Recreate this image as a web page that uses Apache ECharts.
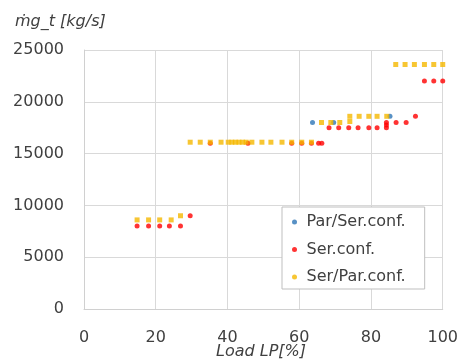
<!DOCTYPE html>
<html>
<head>
<meta charset="utf-8">
<script src="https://cdn.jsdelivr.net/npm/echarts@6/dist/echarts.min.js"></script>
<style>html,body{margin:0;padding:0;background:#fff}#c{width:461px;height:364px}</style>
</head>
<body>
<div id="c"></div>
<script>
// Series names
const seriesNames = ['Par/Ser.conf.', 'Ser.conf.', 'Ser/Par.conf.'];
// Axis ticks
const xTicks = [0, 20, 40, 60, 80, 100];
const yTicks = [0, 5000, 10000, 15000, 20000, 25000];
// Par/Ser.conf. points [load %, mass flow kg/s]
const parSer = [[63.7, 18000], [69.6, 18000], [85.3, 18600]];
// Ser.conf. points
const ser = [
  [14.8, 8000], [18.0, 8000], [21.1, 8000], [23.8, 8000], [26.9, 8000], [29.6, 9000],
  [35.2, 16000], [45.7, 16000], [57.9, 16000], [60.7, 16000], [63.4, 16000], [65.4, 16000], [66.3, 16000],
  [68.3, 17500], [71.0, 17500], [73.8, 17500], [76.4, 17500], [79.4, 17500], [81.7, 17500],
  [84.3, 17500], [84.3, 17750], [84.3, 18000], [87.0, 18000], [89.8, 18000], [92.4, 18600],
  [94.9, 22000], [97.5, 22000], [100, 22000]
];
// Ser/Par.conf. points
const serPar = [
  [14.8, 8600], [18.0, 8600], [21.1, 8600], [24.3, 8600], [26.9, 9000],
  [29.6, 16100], [32.4, 16100], [35.2, 16100], [38.2, 16100],
  [40.2, 16100], [41.2, 16100], [42.2, 16100], [43.2, 16100], [44.2, 16100], [45.2, 16100],
  [46.8, 16100], [49.6, 16100], [52.1, 16100], [55.2, 16100], [57.9, 16100], [60.7, 16100], [63.4, 16100],
  [66.2, 18000], [68.8, 18000], [71.3, 18000], [74.1, 18100],
  [74.1, 18600], [76.7, 18600], [79.4, 18600], [81.7, 18600], [84.4, 18600],
  [86.9, 23600], [89.5, 23600], [92.1, 23600], [94.9, 23600], [97.5, 23600], [100, 23600]
];
const colors = ['#2E75B6', '#FF0000', '#F5B800'];

const chart = echarts.init(document.getElementById('c'), null, {renderer: 'canvas'});
const font = 'DejaVu Sans';
chart.setOption({
  animation: false,
  backgroundColor: '#fff',
  grid: {left: 84, right: 18, top: 50, bottom: 55, containLabel: false},
  xAxis: {
    type: 'value', min: xTicks[0], max: xTicks[xTicks.length - 1], interval: 20,
    axisLine: {show: true, lineStyle: {color: '#d0d0d0', width: 1}},
    axisTick: {show: false},
    splitLine: {show: true, lineStyle: {color: '#d9d9d9', width: 1}},
    axisLabel: {color: '#404040', fontFamily: font, fontSize: 16, margin: 21, formatter: v => String(v)}
  },
  yAxis: {
    type: 'value', min: yTicks[0], max: yTicks[yTicks.length - 1], interval: 5000,
    axisLine: {show: true, lineStyle: {color: '#d0d0d0', width: 1}},
    axisTick: {show: false},
    splitLine: {show: true, lineStyle: {color: '#d9d9d9', width: 1}},
    axisLabel: {color: '#404040', fontFamily: font, fontSize: 16, margin: 20, formatter: v => String(v)}
  },
  legend: {
    orient: 'vertical', left: 282, top: 207,
    padding: [7, 19, 4, 10], itemGap: 11.5,
    itemWidth: 14, itemHeight: 5,
    backgroundColor: '#fff', borderColor: '#bfbfbf', borderWidth: 1,
    textStyle: {color: '#404040', fontFamily: font, fontSize: 16, lineHeight: 16},
    data: seriesNames.map(n => ({name: n, icon: 'circle'}))
  },
  graphic: [
    {type: 'text', left: 15, top: 14, style: {text: 'ṁg_t [kg/s]', font: 'italic 16px "DejaVu Sans"', fill: '#404040'}},
    {type: 'text', left: 216, top: 344, style: {text: 'Load LP[%]', font: 'italic 16px "DejaVu Sans"', fill: '#404040'}}
  ],
  series: [
    {name: seriesNames[0], type: 'scatter', data: parSer, symbol: 'circle', symbolSize: 5, itemStyle: {color: colors[0]}, z: 2},
    {name: seriesNames[1], type: 'scatter', data: ser, symbol: 'circle', symbolSize: 5, itemStyle: {color: colors[1]}, z: 3},
    {name: seriesNames[2], type: 'scatter', data: serPar, symbol: 'rect', symbolSize: 5, itemStyle: {color: colors[2]}, z: 4}
  ]
});
</script>
</body>
</html>
